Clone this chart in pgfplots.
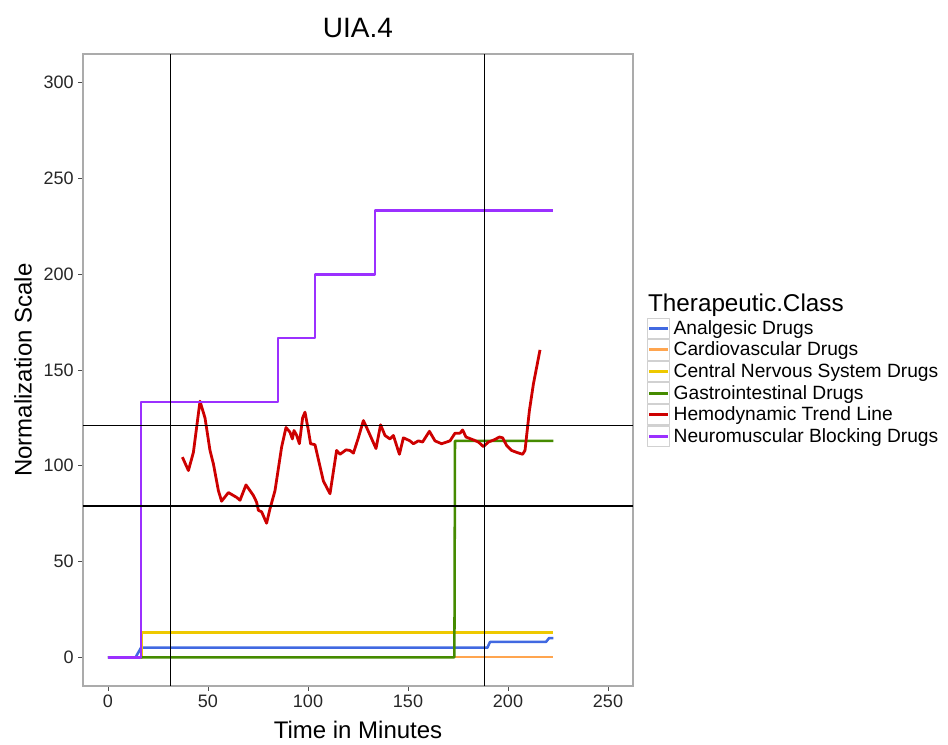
\documentclass[border=0pt]{standalone}
\usepackage{pgfplots}
\pgfplotsset{compat=1.18}
\usepackage{fontspec}
\setmainfont{Liberation Sans}

\definecolor{cAnalg}{RGB}{65,105,225}
\definecolor{cCardio}{RGB}{255,165,79}
\definecolor{cCNS}{RGB}{238,201,0}
\definecolor{cGI}{RGB}{69,139,0}
\definecolor{cHemo}{RGB}{205,0,0}
\definecolor{cNMB}{RGB}{155,48,255}

\begin{document}
\begin{tikzpicture}
% page frame: 948x744 px at 0.75pt per px, axis box at (0,0)
\path[use as bounding box] (-62.25pt,-43.5pt) rectangle (648.75pt,514.5pt);
\begin{axis}[
  scale only axis,
  width=412.5pt, height=474pt,
  xmin=-12.5, xmax=262.5, ymin=-15, ymax=315,
  xtick={0,50,...,250}, ytick={0,50,...,300},
  axis line style={draw=black!33, line width=0.8pt},
  tick align=outside, major tick length=3.5pt,
  tick style={black!70, line width=0.6pt},
  xtick pos=bottom, ytick pos=left,
  /pgf/number format/assume math mode=true,
  ticklabel style={font=\fontsize{13.5}{15}\selectfont, text=black!85},
  title={UIA.4},
  title style={font=\fontsize{21}{24}\selectfont, at={(0.5,1)}, anchor=base, yshift=6.75pt},
  xlabel={Time in Minutes},
  xlabel style={font=\fontsize{18}{20}\selectfont, at={(axis description cs:0.5,0)}, anchor=base, yshift=-39pt},
  ylabel={Normalization Scale},
  ylabel style={font=\fontsize{18}{20}\selectfont, at={(axis description cs:0,0.5)}, anchor=base, yshift=38.5pt},
  legend cell align=left,
  legend style={at={(rel axis cs:1.025,0.5834)}, anchor=north west, draw=none, fill=none,
    font=\fontsize{14.4}{16}\selectfont, row sep=0pt, inner sep=0pt,
    nodes={inner sep=0pt}, column sep=3pt},
  legend image code/.code={
    \draw[draw=black!18, line width=0.8pt, fill=white] (0pt,-7.7pt) rectangle (16.2pt,7.7pt);
    \draw[#1, line width=2.2pt] (1.2pt,0pt) -- (15pt,0pt);
  },
  every axis plot/.append style={line width=1.9pt, line join=round},
  clip mode=individual,
]
\addplot[cAnalg] coordinates {(0,0) (13.8,0) (16.5,5) (189.7,5) (191,8) (219,8) (220.5,10) (222.7,10)};
\addlegendentry{Analgesic Drugs}
\addplot[cCardio, line width=1.2pt] coordinates {(0,0) (222.7,0)};
\addlegendentry{Cardiovascular Drugs}
\addplot[cCNS] coordinates {(0,0) (17,0) (17,13) (222.7,13)};
\addlegendentry{Central Nervous System Drugs}
\addplot[cGI] coordinates {(0,0) (173.2,0) (173.5,113) (222.7,113)};
\addlegendentry{Gastrointestinal Drugs}
\addplot[cHemo, line width=2.1pt] coordinates {
(37.2,104.5) (40.2,97.5) (42.7,107) (46,133.7) (48.5,125) (51,108) (52.7,101)
(55.2,87) (56.8,81.5) (60.2,86) (64.3,83.5) (66,82) (69,90) (72.7,84.5) (74.3,81)
(75.2,76.7) (76.8,76) (79.3,70) (81,77.6) (83.5,87) (86.8,109.7) (89,120) (91,117.5)
(92.2,114) (93,118.4) (94.3,116) (95.7,111.5) (97.3,125) (98.5,128) (100.2,118.4)
(101.3,111.5) (103.5,111) (105.7,101) (107.7,92) (111,85.4) (114.3,108) (116,106)
(119,108.3) (121,108) (122.7,106.6) (125,114) (127.7,123.6) (130,118.4) (134,109)
(136.3,121.4) (138.5,115.8) (141,114) (142.7,115.8) (145.7,106) (147.7,114.6) (151,113)
(152.7,111.5) (155.2,113) (157.3,112.4) (160.7,118) (163.5,113) (166.8,111.5) (171,113)
(173.5,117) (176,117) (177.3,118.7) (179,115) (182.7,113.5) (185.2,112.4) (187.7,110)
(190.2,112.4) (193,113.5) (195.7,115) (197.3,114.6) (199.3,110.6) (201.8,108) (204.3,107)
(207.3,106) (208.5,108) (210.7,128.8) (212.7,142.7) (216,160.5)
};
\addlegendentry{Hemodynamic Trend Line}
\addplot[cNMB] coordinates {(0,0) (16.5,0) (16.5,133.3) (85,133.3) (85,166.7) (103.5,166.7)
(103.5,200) (133.5,200) (133.5,233.3) (222.7,233.3)};
\addlegendentry{Neuromuscular Blocking Drugs}
% reference lines
\addplot[black, line width=0.8pt, forget plot] coordinates {(31.1,-15) (31.1,315)};
\addplot[black, line width=0.8pt, forget plot] coordinates {(188.2,-15) (188.2,315)};
\addplot[black, line width=0.8pt, forget plot] coordinates {(-12.5,121) (262.5,121)};
\addplot[black, line width=0.8pt, forget plot] coordinates {(-12.5,79) (262.5,79)};
\node[anchor=base west, font=\fontsize{18.2}{20}\selectfont, inner sep=0pt]
  at (rel axis cs:1.027,0.5926) {Therapeutic.Class};
\end{axis}
\end{tikzpicture}
\end{document}
